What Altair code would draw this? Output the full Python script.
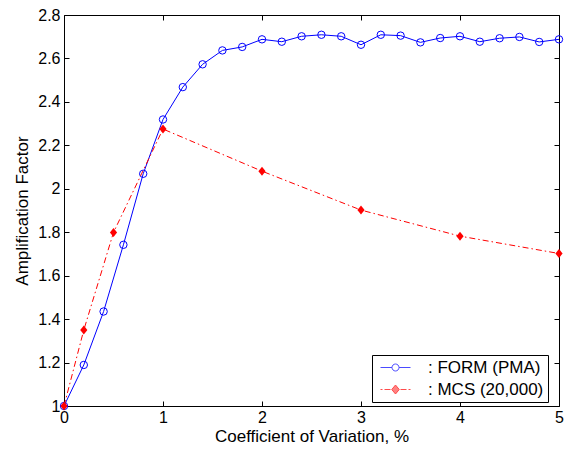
import altair as alt
import pandas as pd

# ---------------- data ----------------
form_x = [0.0, 0.2, 0.4, 0.6, 0.8, 1.0, 1.2, 1.4, 1.6, 1.8, 2.0, 2.2, 2.4, 2.6,
          2.8, 3.0, 3.2, 3.4, 3.6, 3.8, 4.0, 4.2, 4.4, 4.6, 4.8, 5.0]
form_y = [1.000, 1.189, 1.435, 1.742, 2.069, 2.319, 2.468, 2.573, 2.637, 2.653,
          2.688, 2.677, 2.702, 2.709, 2.702, 2.663, 2.709, 2.705, 2.674, 2.694,
          2.702, 2.677, 2.693, 2.699, 2.676, 2.688]
mcs_x = [0.0, 0.2, 0.5, 1.0, 2.0, 3.0, 4.0, 5.0]
mcs_y = [1.000, 1.350, 1.799, 2.275, 2.081, 1.902, 1.782, 1.702]
series_names = ["FORM (PMA)", "MCS (20,000)"]
x_ticks = [0, 1, 2, 3, 4, 5]
y_ticks = [1.0, 1.2, 1.4, 1.6, 1.8, 2.0, 2.2, 2.4, 2.6, 2.8]

FONT = "Liberation Sans"
BLUE = "#0000ff"
RED = "#ff0000"

form_df = pd.DataFrame({"cov": form_x, "af": form_y, "series": series_names[0]})
mcs_df = pd.DataFrame({"cov": mcs_x, "af": mcs_y, "series": series_names[1]})
legend_df = pd.DataFrame({"series": series_names})

xscale = alt.Scale(domain=[0, 5], nice=False, zero=False)
yscale = alt.Scale(domain=[1, 2.8], nice=False, zero=False)

common = dict(tickColor="black", tickSize=5, tickWidth=1, domain=False, grid=False,
              offset=-5, labelFont=FONT, labelFontSize=16, labelColor="black",
              titleFont=FONT, titleFontSize=17, titleColor="black",
              titleFontWeight="normal", labelFlush=False, labelOverlap=False)

x_bottom = alt.Axis(orient="bottom", values=x_ticks, labelPadding=3, titlePadding=3,
                    title="Coefficient of Variation, %", **common)
y_left = alt.Axis(orient="left", values=y_ticks, format="~g", labelPadding=4,
                  titlePadding=6, title="Amplification Factor", **common)
x_top = alt.Axis(orient="top", values=x_ticks, labels=False, **common)
y_right = alt.Axis(orient="right", values=y_ticks, labels=False, **common)

DIAMOND = "M0,-1L0.8,0L0,1L-0.8,0Z"
FORM_SYM = ("M-3,0L-0.7,0M0.7,0L3,0"
            "M0.7,0A0.7,0.7,0,1,1,-0.7,0A0.7,0.7,0,1,1,0.7,0Z")
MCS_SYM = ("M-3,0L-2.6,0M-2.2,0L-1.0,0M1.0,0L2.2,0M2.6,0L3,0"
           "M0.75,0L0,-0.9L-0.75,0L0,0.9Z")

form_line = alt.Chart(form_df).mark_line(color=BLUE, strokeWidth=1).encode(
    x=alt.X("cov:Q", scale=xscale, axis=x_bottom),
    y=alt.Y("af:Q", scale=yscale, axis=y_left),
)
form_pts = alt.Chart(form_df).mark_point(
    shape="circle", size=55, color=BLUE, filled=False, strokeWidth=1, opacity=1
).encode(
    x=alt.X("cov:Q", scale=xscale, axis=x_top, title=None),
    y=alt.Y("af:Q", scale=yscale, axis=y_right, title=None),
)
mcs_line = alt.Chart(mcs_df).mark_line(
    color=RED, strokeWidth=1, strokeDash=[6, 3, 1.5, 3]
).encode(
    x=alt.X("cov:Q", scale=xscale, axis=None),
    y=alt.Y("af:Q", scale=yscale, axis=None),
)
mcs_pts = alt.Chart(mcs_df).mark_point(
    shape=DIAMOND, size=81, color=RED, filled=True, opacity=1
).encode(
    x=alt.X("cov:Q", scale=xscale, axis=None),
    y=alt.Y("af:Q", scale=yscale, axis=None),
)

leg = alt.Legend(
    orient="none", legendX=308, legendY=340, title=None,
    strokeColor="black", fillColor="white", padding=4, cornerRadius=0,
    labelFont=FONT, labelFontSize=17, labelColor="black",
    symbolSize=100, symbolStrokeWidth=1, symbolOffset=11, labelOffset=24,
    rowPadding=4, labelExpr="': ' + datum.label + '  '",
)
legend_layer = alt.Chart(legend_df).mark_point(filled=True, strokeWidth=1).encode(
    shape=alt.Shape("series:N", scale=alt.Scale(domain=series_names, range=[FORM_SYM, MCS_SYM]), legend=leg),
    stroke=alt.Stroke("series:N", scale=alt.Scale(domain=series_names, range=[BLUE, RED]), legend=leg),
    fill=alt.Fill("series:N", scale=alt.Scale(domain=series_names, range=["white", RED]), legend=leg),
).transform_filter("false")

chart = alt.layer(form_line, form_pts, mcs_line, mcs_pts, legend_layer).resolve_axis(
    x="independent", y="independent"
).properties(
    width=495, height=391,
    autosize=alt.AutoSizeParams(type="none"),
    padding={"left": 64, "top": 15, "right": 9, "bottom": 44},
    background="white",
).configure_view(stroke="black", strokeWidth=1)

chart.save("out.html", embed_options={"renderer": "svg", "actions": False})
